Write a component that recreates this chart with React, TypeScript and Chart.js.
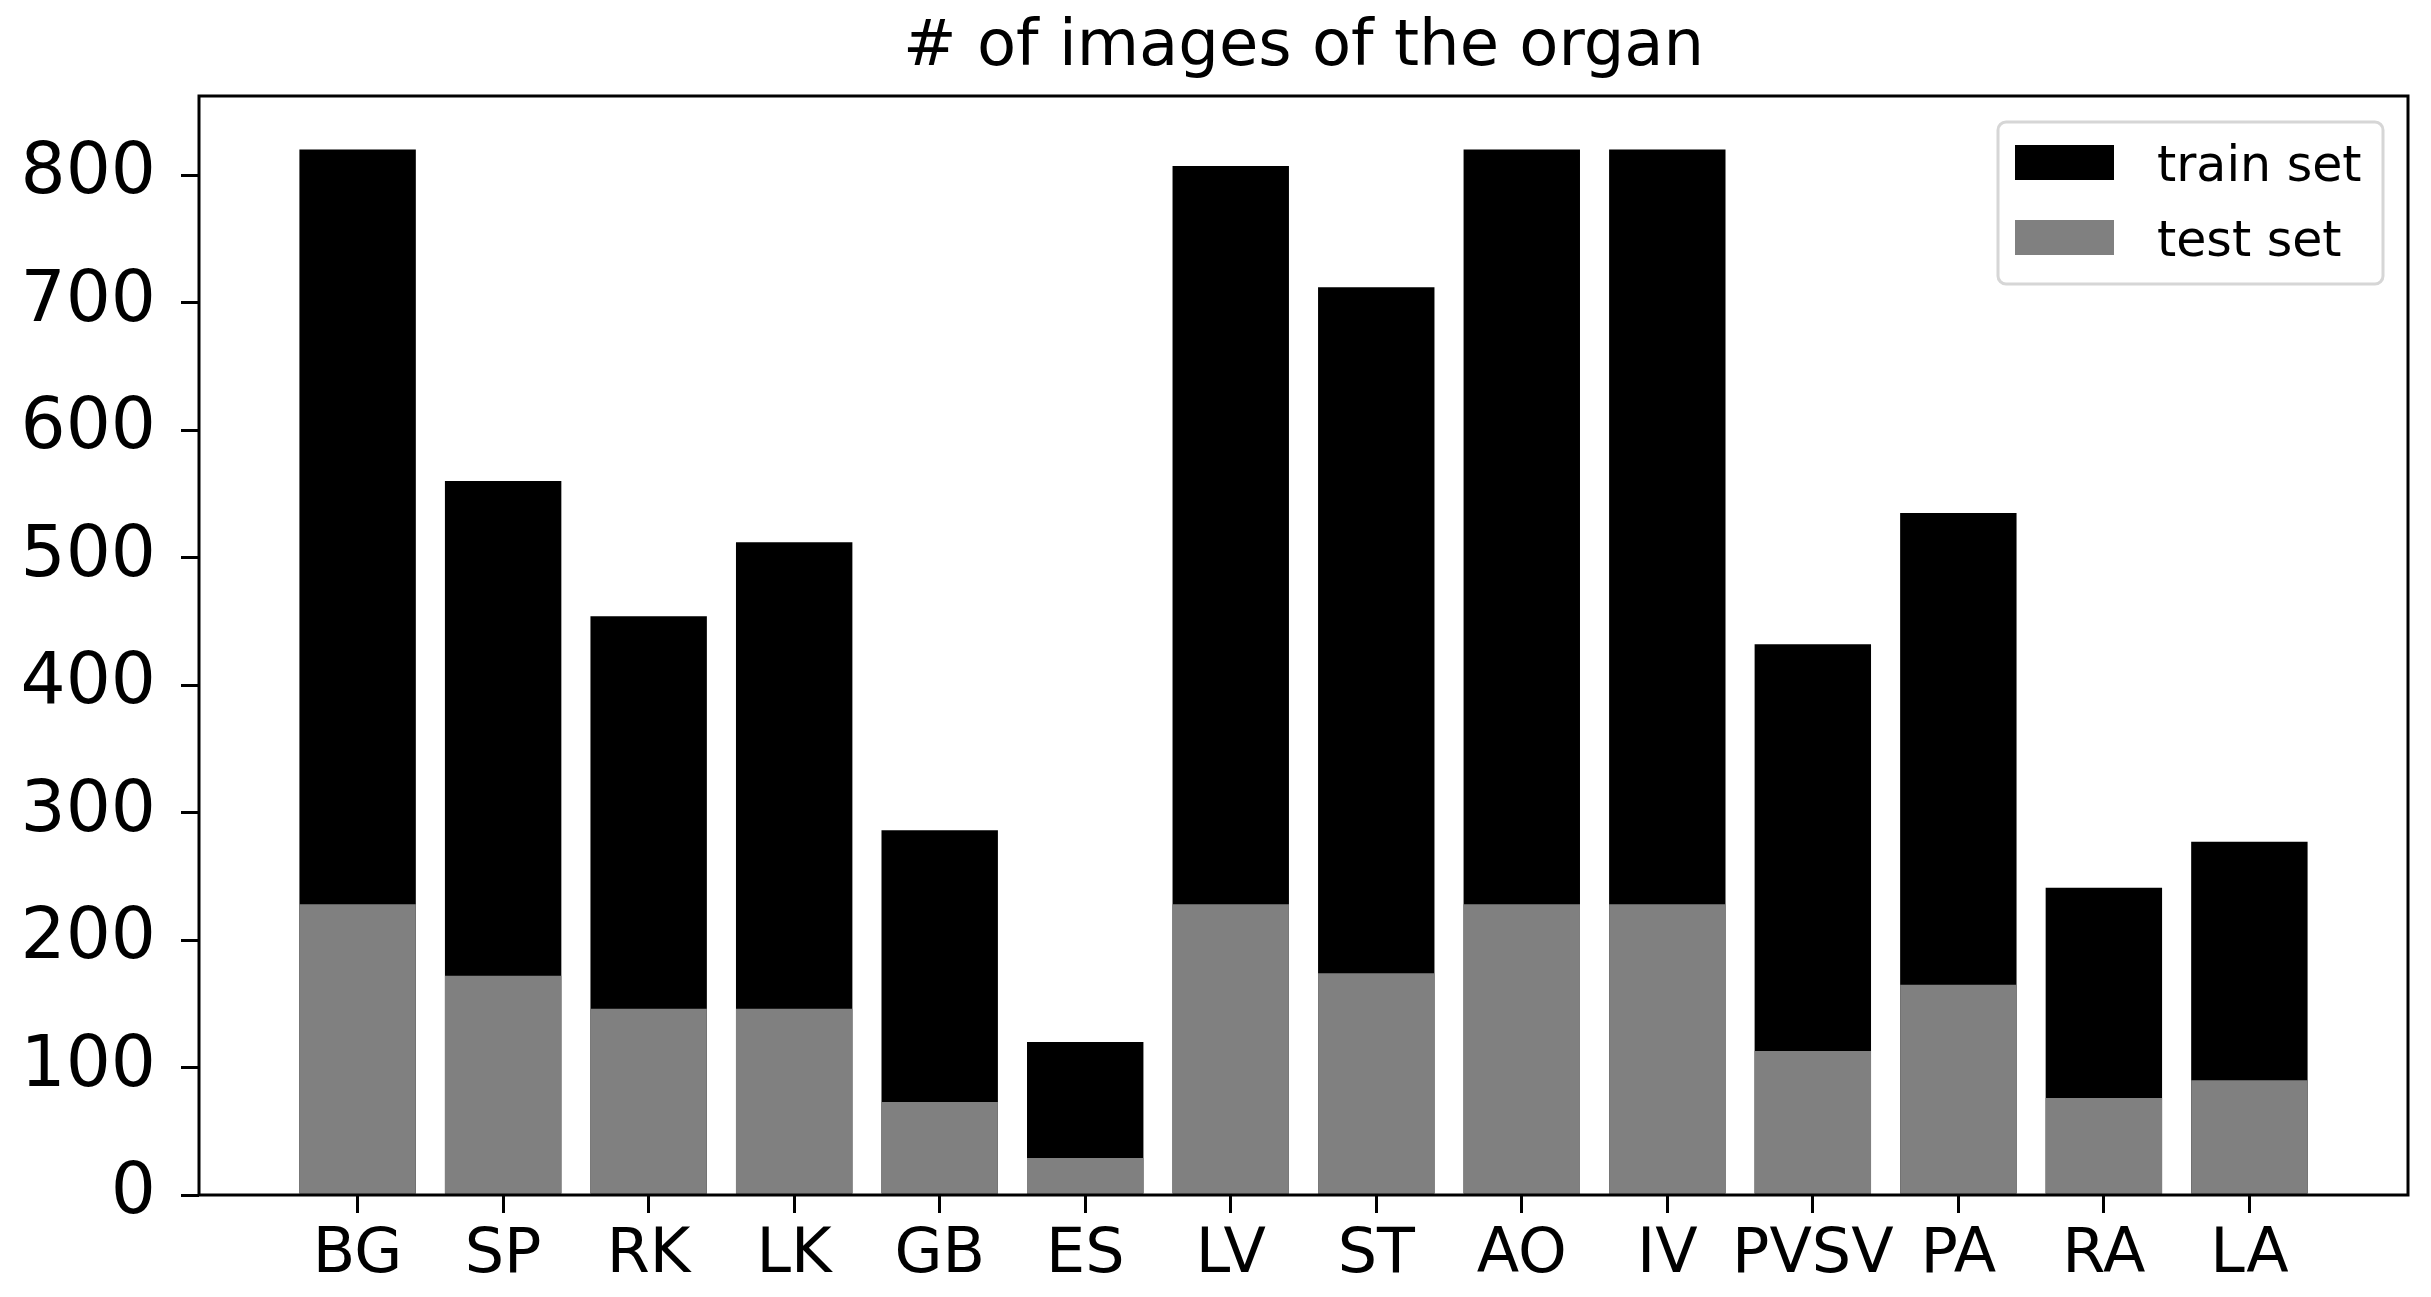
import React, { useEffect, useRef } from "react";
import { Chart, registerables } from "chart.js";

Chart.register(...registerables);

// ---- data ----
const organs = ["BG", "SP", "RK", "LK", "GB", "ES", "LV", "ST", "AO", "IV", "PVSV", "PA", "RA", "LA"];
const trainCounts = [820, 560, 454, 512, 286, 120, 807, 712, 820, 820, 432, 535, 241, 277];
const testCounts = [228, 172, 146, 146, 73, 29, 228, 174, 228, 228, 113, 165, 76, 90];
const yTickValues = [0, 100, 200, 300, 400, 500, 600, 700, 800];
const titleText = "# of images of the organ";
const legendLabels = ["train set", "test set"];
const seriesColors = ["#000000", "#808080"];

const FONT = '"DejaVu Sans", "Liberation Sans", sans-serif';

export default function App() {
  const canvasRef = useRef<HTMLCanvasElement>(null);

  useEffect(() => {
    const canvas = canvasRef.current;
    if (!canvas) return;

    const framePlugin = {
      id: "frameAndText",
      afterDatasetsDraw(chart: any) {
        const { ctx, chartArea: a } = chart;
        ctx.save();
        ctx.strokeStyle = "#000";
        ctx.lineWidth = 3;
        ctx.strokeRect(a.left, a.top, a.right - a.left, a.bottom - a.top);
        ctx.restore();
      },
      afterDraw(chart: any) {
        const { ctx, chartArea: a } = chart;
        ctx.save();
        // title
        ctx.fillStyle = "#000";
        ctx.font = `64px ${FONT}`;
        ctx.textAlign = "center";
        ctx.textBaseline = "alphabetic";
        ctx.fillText(titleText, (a.left + a.right) / 2, 65);

        // legend
        const boxW = 385;
        const boxH = 162;
        const boxLeft = a.right - 25 - boxW;
        const boxTop = a.top + 26;
        const r = 8;
        ctx.beginPath();
        ctx.moveTo(boxLeft + r, boxTop);
        ctx.lineTo(boxLeft + boxW - r, boxTop);
        ctx.arcTo(boxLeft + boxW, boxTop, boxLeft + boxW, boxTop + r, r);
        ctx.lineTo(boxLeft + boxW, boxTop + boxH - r);
        ctx.arcTo(boxLeft + boxW, boxTop + boxH, boxLeft + boxW - r, boxTop + boxH, r);
        ctx.lineTo(boxLeft + r, boxTop + boxH);
        ctx.arcTo(boxLeft, boxTop + boxH, boxLeft, boxTop + boxH - r, r);
        ctx.lineTo(boxLeft, boxTop + r);
        ctx.arcTo(boxLeft, boxTop, boxLeft + r, boxTop, r);
        ctx.closePath();
        ctx.fillStyle = "rgba(255,255,255,0.8)";
        ctx.fill();
        ctx.strokeStyle = "#d6d6d6";
        ctx.lineWidth = 3;
        ctx.stroke();

        ctx.font = `49px ${FONT}`;
        ctx.textAlign = "left";
        ctx.textBaseline = "alphabetic";
        legendLabels.forEach((label, i) => {
          const rowTop = boxTop + 23 + i * 75;
          ctx.fillStyle = seriesColors[i];
          ctx.fillRect(boxLeft + 17, rowTop, 99, 35);
          ctx.fillStyle = "#000";
          ctx.fillText(label, boxLeft + 159, rowTop + 36);
        });
        ctx.restore();
      },
    };

    const gridOpts = {
      display: true,
      drawOnChartArea: false,
      drawTicks: true,
      offset: false,
      tickLength: 18,
      tickWidth: 3,
      color: "#000",
      lineWidth: 3,
    };

    const chart = new Chart(canvas, {
      type: "bar",
      data: {
        datasets: [
          {
            label: legendLabels[1],
            data: testCounts.map((v, i) => ({ x: i, y: v })),
            backgroundColor: seriesColors[1],
            borderWidth: 0,
            order: 0,
            barPercentage: 1,
            categoryPercentage: 0.8,
          },
          {
            label: legendLabels[0],
            data: trainCounts.map((v, i) => ({ x: i, y: v })),
            backgroundColor: seriesColors[0],
            borderWidth: 0,
            order: 1,
            barPercentage: 1,
            categoryPercentage: 0.8,
          },
        ],
      },
      options: {
        responsive: false,
        animation: false,
        devicePixelRatio: 1,
        layout: { padding: { top: 96, right: 23, left: 0, bottom: 0 } },
        plugins: {
          legend: { display: false },
          title: { display: false },
          tooltip: { enabled: false },
        },
        scales: {
          x: {
            type: "linear",
            min: -1.09,
            max: 14.09,
            stacked: true,
            offset: false,
            afterBuildTicks: (s: any) => {
              s.ticks = organs.map((_, i) => ({ value: i }));
            },
            afterFit: (s: any) => {
              s.height = 102;
            },
            ticks: {
              autoSkip: false,
              maxRotation: 0,
              minRotation: 0,
              padding: 6,
              color: "#000",
              font: { family: FONT, size: 62 },
              callback: (v: any) => organs[Math.round(Number(v))] ?? "",
            },
            grid: gridOpts,
            border: { display: false },
          },
          y: {
            type: "linear",
            min: 0,
            max: 862,
            stacked: false,
            afterBuildTicks: (s: any) => {
              s.ticks = yTickValues.map((v) => ({ value: v }));
            },
            afterFit: (s: any) => {
              s.width = 199;
            },
            ticks: {
              padding: 25,
              color: "#000",
              font: { family: FONT, size: 71 },
              callback: (v: any) => String(v),
            },
            grid: gridOpts,
            border: { display: false },
          },
        },
      },
      plugins: [framePlugin],
    } as any);

    return () => {
      chart.destroy();
    };
  }, []);

  return (
    <div style={{ position: "fixed", left: 0, top: 0, width: 2431, height: 1297, background: "#fff" }}>
      <canvas ref={canvasRef} width={2431} height={1297} style={{ display: "block", width: 2431, height: 1297 }} />
    </div>
  );
}
